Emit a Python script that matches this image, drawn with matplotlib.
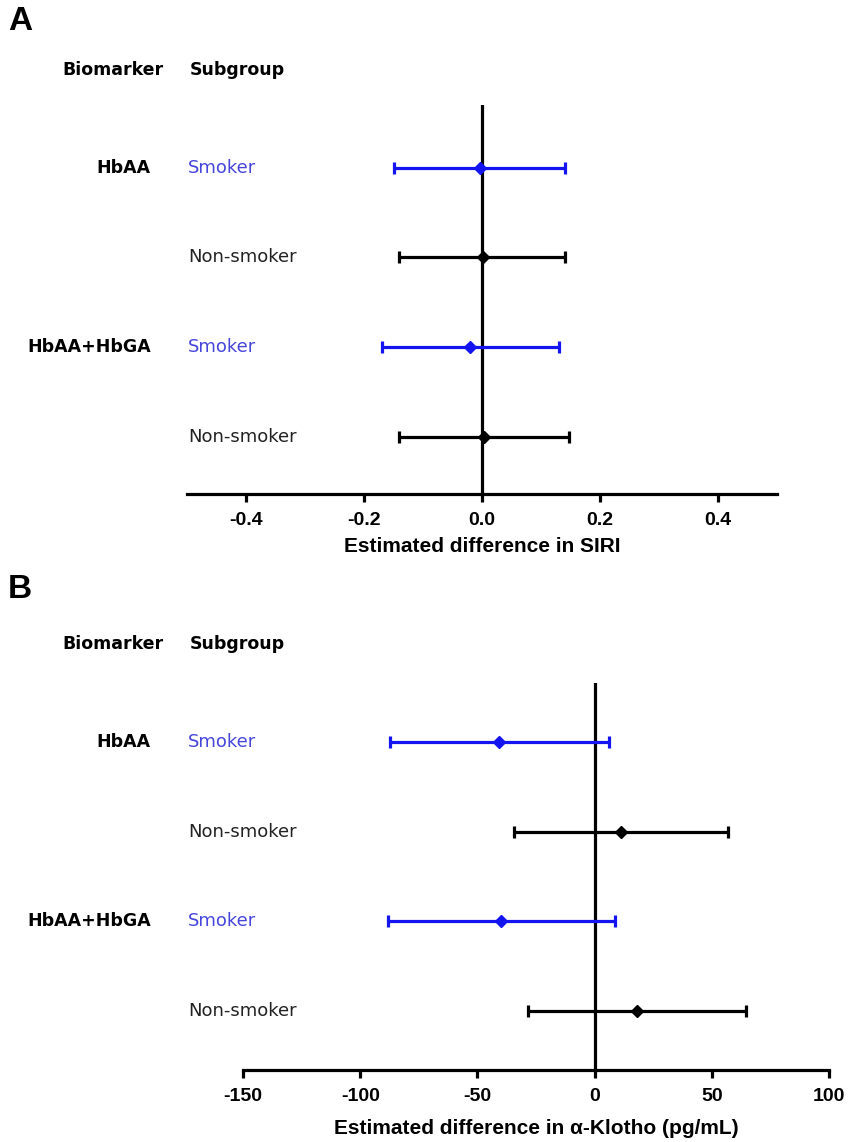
import matplotlib
matplotlib.use("Agg")
import matplotlib.pyplot as plt
import matplotlib.transforms as mtransforms
import numpy as np

# rows, top to bottom
biomarkers = ["HbAA", "", "HbAA+HbGA", ""]
subgroups = ["Smoker", "Non-smoker", "Smoker", "Non-smoker"]

# panel A: SIRI
siri_est = [-0.004, 0.001, -0.020, 0.004]
siri_lo = [-0.150, -0.140, -0.169, -0.140]
siri_hi = [0.140, 0.140, 0.131, 0.148]
siri_ticks = [-0.4, -0.2, 0.0, 0.2, 0.4]

# panel B: alpha-Klotho
klotho_est = [-40.8, 11.3, -39.9, 18.0]
klotho_lo = [-87.3, -34.5, -88.3, -28.6]
klotho_hi = [6.0, 56.7, 8.6, 64.5]
klotho_ticks = [-150, -100, -50, 0, 50, 100]

BAR_BLUE = "#1414f0"
TXT_BLUE = "#4646dc"
axfont = ["Liberation Sans", "DejaVu Sans"]

fig = plt.figure(figsize=(8.51, 11.42), dpi=100)


def forest(ax, est, lo, hi, xlim, ticks, ticklabels, xlabel, ylim, lpad):
    y = np.arange(len(est))[::-1] + 1
    for i in range(len(est)):
        c = BAR_BLUE if subgroups[i] == "Smoker" else "black"
        ax.errorbar(est[i], y[i], xerr=[[est[i] - lo[i]], [hi[i] - est[i]]],
                    fmt="D", color=c, ms=6, elinewidth=2.3, capsize=4.5,
                    capthick=2.3, zorder=3)
    ax.axvline(0, color="black", lw=2.3, zorder=2)
    ax.set_xlim(xlim)
    ax.set_ylim(ylim)
    for s in ["left", "top", "right"]:
        ax.spines[s].set_visible(False)
    ax.spines["bottom"].set_linewidth(2.3)
    ax.set_yticks([])
    ax.set_xticks(ticks)
    ax.set_xticklabels(ticklabels, fontfamily=axfont, fontweight="bold", fontsize=14)
    ax.tick_params(axis="x", length=6, width=2.3, pad=7)
    ax.set_xlabel(xlabel, fontfamily=axfont, fontweight="bold", fontsize=15, labelpad=lpad)

    tr = mtransforms.blended_transform_factory(fig.transFigure, ax.transData)
    for i in range(len(est)):
        if biomarkers[i]:
            ax.text(151 / 851, y[i], biomarkers[i], transform=tr, ha="right",
                    va="center", fontweight="bold", fontsize=12.5)
        c = TXT_BLUE if subgroups[i] == "Smoker" else "#222222"
        ax.text(188 / 851, y[i], subgroups[i], transform=tr, ha="left",
                va="center", fontsize=13, color=c)


axA = fig.add_axes([187 / 851, 1 - 494 / 1142, 590 / 851, 389 / 1142])
forest(axA, siri_est, siri_lo, siri_hi, (-0.5, 0.5), siri_ticks,
       ["%.1f" % t for t in siri_ticks], "Estimated difference in SIRI",
       (0.36, 4.70), 6)

axB = fig.add_axes([243 / 851, 1 - 1070 / 1142, 586 / 851, 387 / 1142])
forest(axB, klotho_est, klotho_lo, klotho_hi, (-150, 100), klotho_ticks,
       [str(t) for t in klotho_ticks], "Estimated difference in α-Klotho (pg/mL)",
       (0.34, 4.66), 10)

for lab, yy, hy in [("A", 22, 70), ("B", 590, 644)]:
    fig.text(8 / 851, 1 - yy / 1142, lab, fontfamily="Liberation Sans",
             fontweight="bold", fontsize=24, va="center", ha="left")
    fig.text(62 / 851, 1 - hy / 1142, "Biomarker", fontweight="bold",
             fontsize=12.5, va="center", ha="left")
    fig.text(190 / 851, 1 - hy / 1142, "Subgroup", fontweight="bold",
             fontsize=12.5, va="center", ha="left")

fig.savefig("out.png", dpi=100)
